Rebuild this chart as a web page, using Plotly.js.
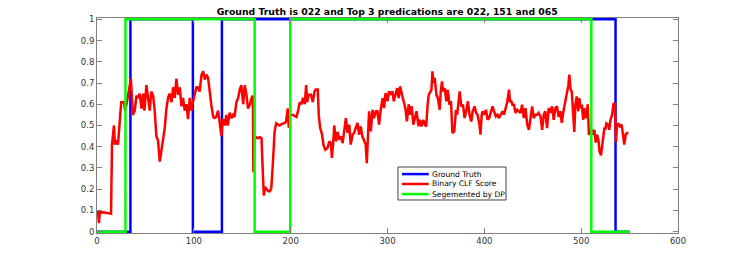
<!DOCTYPE html>
<html>
<head>
<meta charset="utf-8">
<script src="https://cdn.plot.ly/plotly-3.0.1.min.js"></script>
<style>html,body{margin:0;padding:0;background:#fff;}#chart{width:749px;height:260px;}</style>
</head>
<body>
<div id="chart"></div>
<script>
// Ground truth step signal
const gtX = [0, 34.5, 34.5, 99, 99, 129, 129, 535.5, 535.5, 550];
const gtY = [0, 0, 1, 1, 0, 0, 1, 1, 0, 0];

// DP segmentation step signal
const dpX = [0, 29.4, 29.4, 162.8, 162.8, 199.6, 199.6, 510.5, 510.5, 550];
const dpY = [0, 0, 1, 1, 0, 0, 1, 1, 0, 0];

// Binary classifier score
const clfX = [1,2,3,5,7,9,11,13,14.5,15.5,17.5,18.5,20,21.7,23.4,25,28,29,30.5,32,35,37,39,40.7,42.5,44,46,47.6,49,51,52.8,54.5,56,58,59.6,61.3,63,64.8,66.5,68,70,71.7,73.4,75,77,78.6,80.3,82,83.8,85.5,87.2,88.9,90.6,92.4,94,95.8,97.5,99,101,102.7,104,106,108,109.6,111.3,113,114.7,116,118,120,121.5,123,125,126.8,128.5,130,132,133.5,135,137,138.8,140.5,142,144,145.8,147.5,149,151,152.6,154.3,156,158,159.6,161,161.5,162.5,164,166,168,169.9,171.5,172.3,173.5,175,177,178.5,180,181.6,183.4,185,187,188.5,190,192,194,195.3,197,198,199,201,202.6,204,206,207.7,209.4,211,212.8,214.5,216,217,218.8,221,222.9,224.6,226,228,229,230.4,232.5,233.8,235.8,238,240,241.5,242.6,244,245,246.8,248.5,250,252,253.7,255.4,257,258.8,260.5,262,264,265.5,267,269,270.7,272.4,274,276,277.5,278.6,280,281,282.8,284.5,286,288,289.6,291.3,293,295,296.5,298,300,301.5,303,305,306.5,308,310,311.6,313,315,316.8,318.5,320,321,322,323,325,326.7,328.4,330,332,333.4,335,337,338.6,340,341.3,342.6,343.7,345.4,346.4,347.6,348.8,350.5,352,353.9,355,356.3,357.3,359,360.8,362,362.9,363.9,365.6,367,369,370.7,372,373.7,374.5,376.2,378,379.6,381.3,383,384.7,386.5,388,389.9,391.6,393,395,396,397.3,398.3,400,401.7,403.4,405,406.8,408.5,410,411.9,413.6,415,417,418.7,420.4,422,423.8,425.5,426.5,427.9,429,430.6,432.3,434,435.7,437.4,439,440.8,442.5,444.3,446,447.7,449.4,451,452.8,454.5,456,458,459.7,461.4,463,464.8,466.5,468,470,471.7,473.4,475,476.8,478.5,480,481.7,483.4,485,486.8,487.8,489,490.3,491.7,492.9,494,495.4,497,498,499.6,500.8,502,503.2,504.6,505.7,506.8,508,509.5,511,512.6,513.6,515,516.4,517.8,519,520.5,521.9,523,524,525,526,528,529,530.3,532,533.3,534.8,535.9,537,538.4,540,541.8,543.2,544.5,546,547.4,548.8];
const clfY = [0.10,0.04,0.095,0.09,0.092,0.088,0.088,0.085,0.085,0.41,0.50,0.41,0.43,0.41,0.50,0.61,0.61,0.57,0.60,0.64,0.72,0.55,0.57,0.64,0.63,0.65,0.58,0.65,0.57,0.69,0.63,0.57,0.66,0.64,0.57,0.45,0.43,0.33,0.38,0.42,0.49,0.58,0.63,0.65,0.61,0.68,0.63,0.72,0.645,0.68,0.59,0.63,0.57,0.60,0.53,0.63,0.57,0.61,0.65,0.68,0.68,0.66,0.74,0.755,0.716,0.74,0.724,0.67,0.60,0.54,0.535,0.54,0.57,0.51,0.45,0.53,0.50,0.55,0.50,0.56,0.535,0.55,0.54,0.61,0.63,0.67,0.69,0.60,0.69,0.645,0.58,0.60,0.63,0.64,0.28,0.45,0.446,0.44,0.445,0.44,0.25,0.17,0.21,0.20,0.19,0.19,0.205,0.32,0.47,0.51,0.505,0.50,0.505,0.51,0.512,0.52,0.58,0.49,0.55,0.55,0.55,0.545,0.54,0.57,0.61,0.60,0.63,0.60,0.69,0.61,0.645,0.645,0.61,0.66,0.67,0.67,0.55,0.49,0.456,0.41,0.386,0.394,0.425,0.417,0.347,0.425,0.50,0.425,0.47,0.433,0.449,0.417,0.488,0.535,0.465,0.504,0.41,0.457,0.465,0.488,0.512,0.457,0.496,0.449,0.425,0.41,0.323,0.472,0.567,0.472,0.574,0.535,0.567,0.567,0.504,0.574,0.629,0.582,0.653,0.614,0.661,0.645,0.661,0.614,0.645,0.676,0.629,0.684,0.645,0.614,0.58,0.52,0.57,0.60,0.551,0.59,0.504,0.535,0.567,0.496,0.527,0.496,0.527,0.504,0.496,0.59,0.645,0.653,0.669,0.755,0.70,0.724,0.645,0.629,0.574,0.661,0.708,0.661,0.676,0.614,0.669,0.645,0.598,0.614,0.465,0.472,0.574,0.551,0.629,0.661,0.59,0.598,0.535,0.567,0.614,0.551,0.519,0.567,0.59,0.559,0.551,0.504,0.457,0.551,0.567,0.551,0.574,0.527,0.535,0.567,0.59,0.567,0.543,0.551,0.535,0.551,0.567,0.551,0.582,0.614,0.669,0.614,0.614,0.598,0.598,0.559,0.574,0.567,0.559,0.598,0.535,0.582,0.504,0.48,0.551,0.59,0.535,0.551,0.551,0.559,0.543,0.48,0.551,0.567,0.488,0.582,0.559,0.59,0.527,0.582,0.59,0.54,0.567,0.512,0.567,0.605,0.645,0.69,0.74,0.67,0.66,0.551,0.47,0.598,0.637,0.567,0.629,0.582,0.598,0.527,0.582,0.535,0.551,0.60,0.455,0.472,0.48,0.457,0.48,0.42,0.457,0.433,0.378,0.36,0.41,0.449,0.49,0.48,0.51,0.504,0.48,0.527,0.551,0.60,0.606,0.42,0.496,0.51,0.496,0.504,0.449,0.41,0.457,0.465,0.465];

const xTicks = [0, 100, 200, 300, 400, 500, 600];
const yTicks = [0, 0.1, 0.2, 0.3, 0.4, 0.5, 0.6, 0.7, 0.8, 0.9, 1];
const yTickText = ['0', '0.1', '0.2', '0.3', '0.4', '0.5', '0.6', '0.7', '0.8', '0.9', '1'];
const titleText = 'Ground Truth is 022 and Top 3 predications are 022, 151 and 065';
const seriesNames = ['Ground Truth', 'Binary CLF Score', 'Segemented by DP'];
const seriesColors = ['#0000ff', '#ff0000', '#00ff00'];

const traces = [
  {x: gtX, y: gtY, type: 'scatter', mode: 'lines', name: seriesNames[0],
   line: {color: seriesColors[0], width: 2.5}},
  {x: clfX, y: clfY, type: 'scatter', mode: 'lines', name: seriesNames[1],
   line: {color: seriesColors[1], width: 2.5}},
  {x: dpX, y: dpY, type: 'scatter', mode: 'lines', name: seriesNames[2],
   line: {color: seriesColors[2], width: 2.5}}
];

const FONT = 'DejaVu Sans, sans-serif';
const axisCommon = {
  showgrid: false, zeroline: false, showline: true, linecolor: '#808080', linewidth: 1,
  mirror: 'ticks', ticks: 'inside', ticklen: 5, tickcolor: '#808080', tickwidth: 1,
  tickfont: {family: FONT, size: 8.5, color: '#333333'}
};

// Hand-built compact legend (MATLAB style)
const lgBox = {x0: 0.518, x1: 0.704, y0: 0.1535, y1: 0.307};
const lgRows = [0.274, 0.228, 0.181];
const shapes = [{type: 'rect', xref: 'paper', yref: 'paper', x0: lgBox.x0, x1: lgBox.x1, y0: lgBox.y0, y1: lgBox.y1,
                 line: {color: '#404040', width: 1}, fillcolor: '#ffffff', layer: 'above'}];
const annotations = [];
seriesNames.forEach((n, i) => {
  shapes.push({type: 'line', xref: 'paper', yref: 'paper', x0: 0.525, x1: 0.571, y0: lgRows[i], y1: lgRows[i],
               line: {color: seriesColors[i], width: 2.5}, layer: 'above'});
  annotations.push({xref: 'paper', yref: 'paper', x: 0.574, y: lgRows[i], xanchor: 'left', yanchor: 'middle',
                    text: n, showarrow: false, font: {family: FONT, size: 7.6, color: '#000000'}});
});

const layout = {
  width: 749, height: 260,
  margin: {l: 97, r: 71, t: 18, b: 27},
  paper_bgcolor: '#ffffff', plot_bgcolor: '#ffffff',
  title: {text: '<b>' + titleText + '</b>', x: 0.517, xanchor: 'center', y: 0.967, yanchor: 'top',
          font: {family: FONT, size: 9.3, color: '#000000'}},
  xaxis: Object.assign({}, axisCommon, {range: [0, 600], tickvals: xTicks, ticktext: xTicks.map(String)}),
  yaxis: Object.assign({}, axisCommon, {range: [-0.006, 1.006], tickvals: yTicks, ticktext: yTickText}),
  showlegend: false,
  shapes: shapes,
  annotations: annotations
};

Plotly.newPlot('chart', traces, layout, {displayModeBar: false, staticPlot: true});
</script>
</body>
</html>
